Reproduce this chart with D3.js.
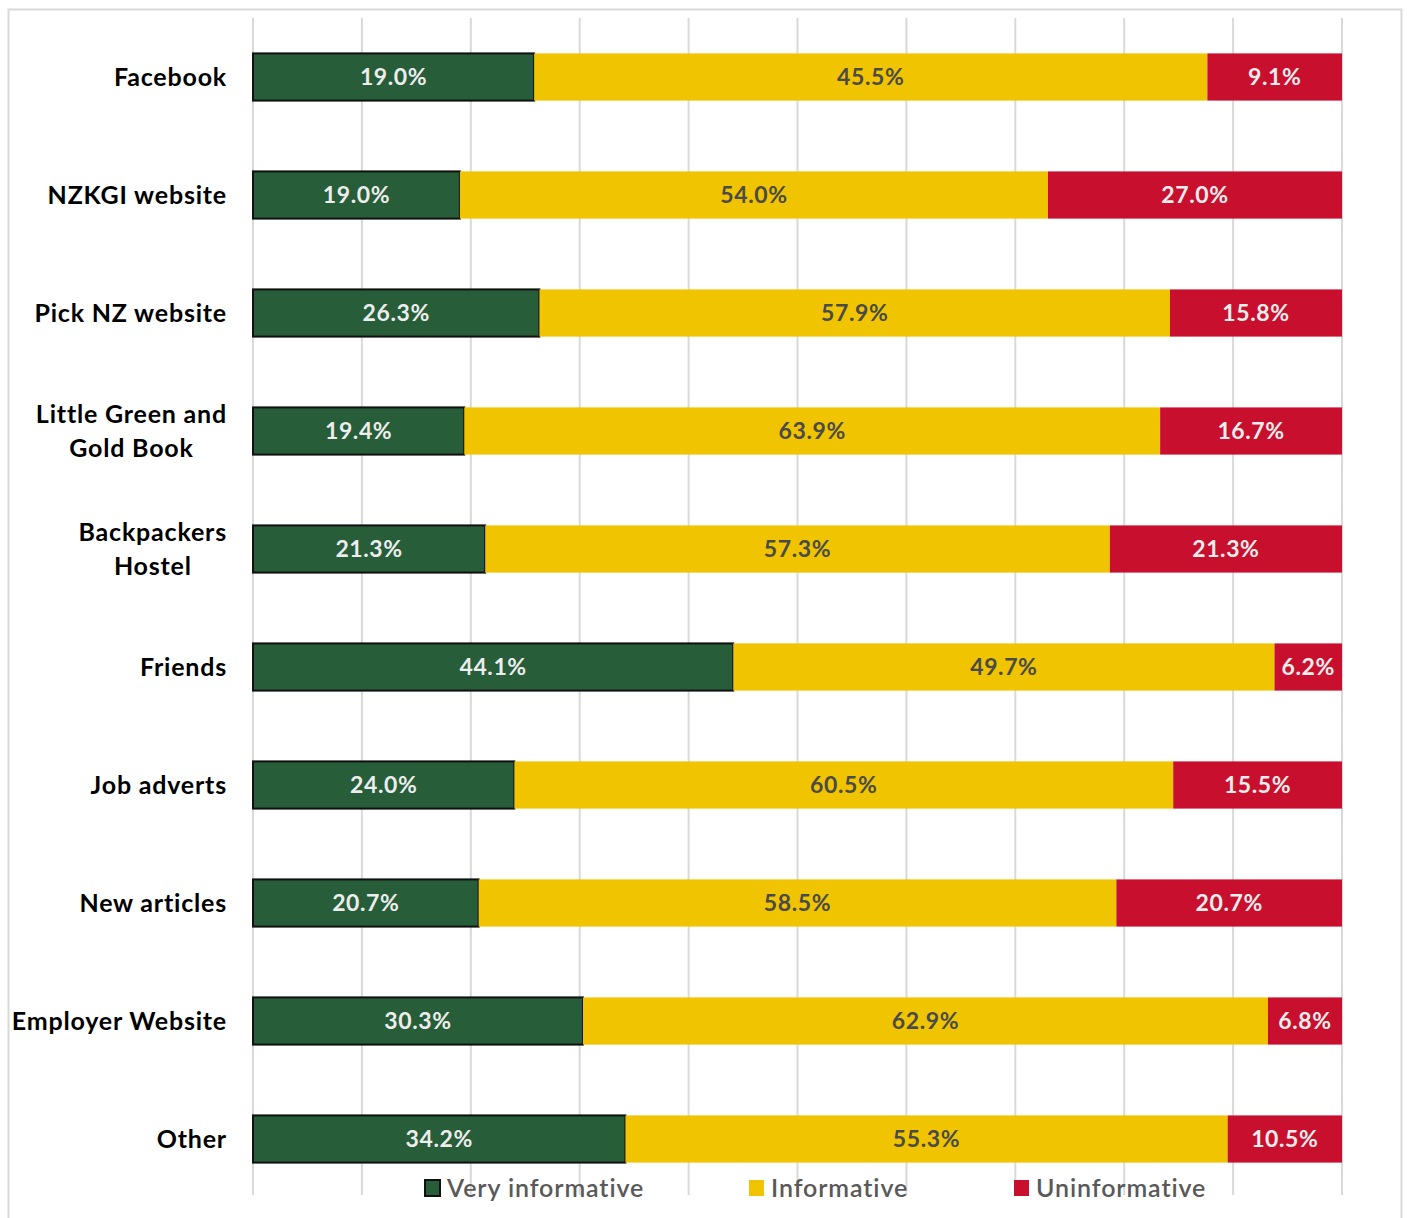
<!DOCTYPE html>
<html><head><meta charset="utf-8">
<script src="https://cdn.jsdelivr.net/npm/d3@7"></script>
<style>body{margin:0;background:#fff;} svg{display:block;}</style>
</head><body>
<svg id="chart" width="1407" height="1218"></svg>
<script>
const categories = ["Facebook","NZKGI website","Pick NZ website","Little Green and\nGold Book","Backpackers\nHostel","Friends","Job adverts","New articles","Employer Website","Other"];
const veryInformative = [19.0,19.0,26.3,19.4,21.3,44.1,24.0,20.7,30.3,34.2];
const informative     = [45.5,54.0,57.9,63.9,57.3,49.7,60.5,58.5,62.9,55.3];
const uninformative   = [9.1,27.0,15.8,16.7,21.3,6.2,15.5,20.7,6.8,10.5];
const seriesNames = ["Very informative","Informative","Uninformative"];
const xTicks = [0,0.1,0.2,0.3,0.4,0.5,0.6,0.7,0.8,0.9,1];

const colors = ["#275D38","#F0C400","#C8102E"];
const labelColors = ["#EDEDED","#4A4A4A","#EDEDED"];
const keys = ["v","i","u"];
const rows = categories.map((c,k)=>({cat:c, v:veryInformative[k], i:informative[k], u:uninformative[k]}));

const svg = d3.select("#chart");
const font = "Lato, 'Open Sans', sans-serif";

// outer border
svg.append("rect").attr("x",8.5).attr("y",9.5).attr("width",1393).attr("height",1216)
  .attr("fill","none").attr("stroke","#D9D9D9").attr("stroke-width",2);

const x = d3.scaleLinear().domain([0,1]).range([253,1342]);
const y = d3.scaleBand().domain(categories).range([18,1198]).paddingInner(0.6).paddingOuter(0.3);

// gridlines
svg.append("g").selectAll("line").data(xTicks).join("line")
  .attr("x1",d=>x(d)).attr("x2",d=>x(d)).attr("y1",18).attr("y2",1195)
  .attr("stroke","#D9D9D9").attr("stroke-width",2);

const stack = d3.stack().keys(keys).offset(d3.stackOffsetExpand);
const series = stack(rows);

series.forEach((s,si)=>{
  const g = svg.append("g");
  g.selectAll("rect").data(s).join("rect")
    .attr("x",d=>x(d[0])).attr("width",d=>x(d[1])-x(d[0]))
    .attr("y",d=>y(d.data.cat)).attr("height",y.bandwidth())
    .attr("fill",colors[si])
    .attr("stroke",si===0?"#111":"none").attr("stroke-width",si===0?2:0);
  g.selectAll("text").data(s).join("text")
    .attr("x",d=>(x(d[0])+x(d[1]))/2).attr("y",d=>y(d.data.cat)+y.bandwidth()/2)
    .attr("dy","0.36em").attr("text-anchor","middle")
    .attr("font-family",font).attr("font-weight","bold").attr("font-size",23)
    .attr("letter-spacing",0.6)
    .attr("fill",labelColors[si])
    .text(d=>d.data[keys[si]].toFixed(1)+"%");
});

// category labels
categories.forEach(c=>{
  const lines = c.split("\n");
  const cy = y(c)+y.bandwidth()/2;
  const g = svg.append("g");
  const lh = 34;
  const t = g.selectAll("text").data(lines).join("text")
    .attr("font-family",font).attr("font-weight","bold").attr("font-size",25)
    .attr("letter-spacing",0.8)
    .attr("fill","#000").attr("text-anchor","middle")
    .attr("y",(d,k)=>cy+(k-(lines.length-1)/2)*lh).attr("dy","0.36em")
    .text(d=>d);
  let maxW = 0;
  t.each(function(){maxW=Math.max(maxW,this.getComputedTextLength());});
  t.attr("x",227-maxW/2);
});

// legend
const legendX = [424,748,1013];
seriesNames.forEach((n,k)=>{
  const g = svg.append("g");
  g.append("rect").attr("x",legendX[k]+1).attr("y",1180).attr("width",15).attr("height",16)
    .attr("fill",colors[k]).attr("stroke",k===0?"#111":"none").attr("stroke-width",k===0?2:0);
  g.append("text").attr("x",legendX[k]+23).attr("y",1188).attr("dy","0.36em")
    .attr("font-family",font).attr("font-size",25).attr("fill","#595959")
    .attr("font-weight","600").attr("letter-spacing",0.9)
    .text(n);
});
</script>
</body></html>
